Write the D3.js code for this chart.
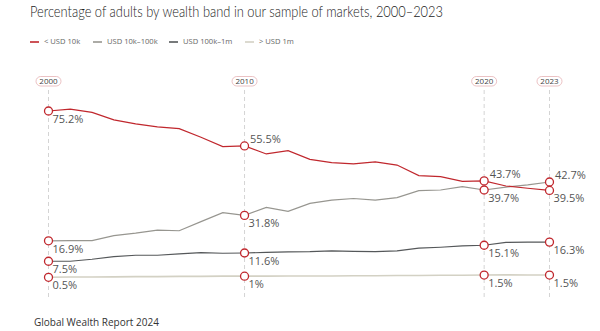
<!DOCTYPE html>
<html>
<head>
<meta charset="utf-8">
<script src="https://cdn.jsdelivr.net/npm/d3@7"></script>
<style>
  body { margin: 0; background: #fff; }
  svg { font-family: "Open Sans", "DejaVu Sans", sans-serif; }
</style>
</head>
<body>
<div id="container"></div>
<script>
/* CONSTANTS AND GLOBALS */
const width = 600,
  height = 331;

/* DATA */
// one entry per period on the x axis (24 periods)
const periods = ["2000","2001","2002","2003","2004","2005","2006","2007","2008","2010",
  "2011","2012","2013","2014","2015","2016","2017","2018","2019","2020",
  "2020b","2021","2022","2023"];

const seriesNames = ["< USD 10k", "USD 10k\u2013100k", "USD 100k\u20131m", "> USD 1m"];
const seriesColors = ["#c0272d", "#979690", "#55585a", "#d3d1c4"];

const under10k = [75.2, 76.0, 74.6, 71.2, 69.4, 68.1, 67.3, 63.4, 59.2, 59.5,
  55.9, 57.4, 53.5, 52.0, 51.4, 52.3, 50.9, 46.2, 45.7, 43.6, 43.8, 41.5, 40.5, 39.5];
const usd10k100k = [16.9, 17.0, 17.0, 19.2, 20.3, 21.7, 21.4, 25.5, 29.5, 28.3,
  31.9, 30.1, 33.7, 35.2, 35.9, 35.2, 36.3, 39.4, 39.7, 41.2, 39.7, 41.0, 42.0, 43.3];
const usd100k1m = [7.7, 7.7, 8.6, 9.8, 10.4, 10.4, 11.0, 11.6, 11.3, 11.4,
  11.7, 11.9, 12.0, 12.4, 12.1, 12.0, 12.4, 13.6, 14.0, 14.6, 14.9, 16.2, 16.3, 16.3];
const over1m = [0.5, 0.6, 0.6, 0.7, 0.8, 0.8, 0.9, 0.9, 1.0, 1.0,
  1.0, 1.1, 1.1, 1.1, 1.2, 1.2, 1.3, 1.3, 1.4, 1.4, 1.5, 1.6, 1.5, 1.5];

// highlighted periods (index into periods) and their header labels
const markIndex = [0, 9, 20, 23];
const markLabels = ["2000", "2010", "2020", "2023"];

// printed value labels per series at the highlighted periods
const markText = [
  ["75.2%", "55.5%", "43.7%", "39.5%"],
  ["16.9%", "31.8%", "39.7%", "42.7%"],
  ["7.5%", "11.6%", "15.1%", "16.3%"],
  ["0.5%", "1%", "1.5%", "1.5%"]
];
// label above the marker (true) or below it (false)
const markAbove = [
  [false, true, true, false],
  [false, false, false, true],
  [false, false, false, false],
  [false, false, false, false]
];

const allSeries = [under10k, usd10k100k, usd100k1m, over1m];

/* SCALES */
const xScale = d3.scalePoint()
  .domain(d3.range(periods.length))
  .range([48.5, 549.5]);

const yScale = d3.scaleLinear()
  .domain([0, 80])
  .range([278.4, 100.3]);

/* SVG */
const svg = d3.select("#container")
  .append("svg")
  .attr("width", width)
  .attr("height", height);

// title
svg.append("text")
  .attr("x", 30)
  .attr("y", 17)
  .attr("fill", "#222")
  .attr("font-family", "Lato, 'Open Sans', sans-serif")
  .attr("font-size", 14.6)
  .attr("font-weight", 300)
  .attr("textLength", 413)
  .attr("lengthAdjust", "spacingAndGlyphs")
  .text("Percentage of adults by wealth band in our sample of markets, 2000\u20132023");

// legend
const legendX = [30, 93, 169, 245];
const legend = svg.selectAll(".legend")
  .data(seriesNames)
  .join("g")
  .attr("class", "legend")
  .attr("transform", (d, i) => `translate(${legendX[i]},41)`);

legend.append("line")
  .attr("x1", 0).attr("x2", 9)
  .attr("y1", 1).attr("y2", 1)
  .attr("stroke", (d, i) => seriesColors[i])
  .attr("stroke-width", 1.6);

legend.append("text")
  .attr("x", 14)
  .attr("y", 3)
  .attr("font-size", 7.6)
  .attr("fill", "#666")
  .text(d => d);

// dashed guide lines + year pills
const guides = svg.selectAll(".guide")
  .data(markIndex)
  .join("g")
  .attr("class", "guide")
  .attr("transform", d => `translate(${xScale(d)},0)`);

guides.append("line")
  .attr("y1", 90).attr("y2", 300)
  .attr("stroke", "#d4d4d4")
  .attr("stroke-width", 1)
  .attr("stroke-dasharray", "4,3");

guides.append("rect")
  .attr("x", -12.5).attr("y", 76.5)
  .attr("width", 25).attr("height", 9.5)
  .attr("rx", 4.75)
  .attr("fill", "#fff")
  .attr("stroke", "#e6b3b5")
  .attr("stroke-width", 0.8);

guides.append("text")
  .attr("y", 84.3)
  .attr("text-anchor", "middle")
  .attr("font-size", 8)
  .attr("fill", "#444")
  .text((d, i) => markLabels[i]);

// LINE GENERATOR
const lineGen = d3.line()
  .x((d, i) => xScale(i))
  .y(d => yScale(d));

// draw lines, lightest first so red ends on top
const order = [3, 2, 1, 0];
svg.selectAll(".line")
  .data(order)
  .join("path")
  .attr("class", "line")
  .attr("fill", "none")
  .attr("stroke", s => seriesColors[s])
  .attr("stroke-width", s => s === 3 ? 1.6 : 1.2)
  .attr("d", s => lineGen(allSeries[s]));

// markers and value labels
order.forEach(s => {
  const pts = markIndex.map((idx, k) => ({
    x: xScale(idx),
    y: yScale(allSeries[s][idx]),
    text: markText[s][k],
    above: markAbove[s][k]
  }));

  svg.selectAll(".mark-" + s)
    .data(pts)
    .join("circle")
    .attr("class", "mark-" + s)
    .attr("cx", d => d.x)
    .attr("cy", d => d.y)
    .attr("r", 4)
    .attr("fill", "#fff")
    .attr("stroke", "#c0272d")
    .attr("stroke-width", 1.3);

  svg.selectAll(".lab-" + s)
    .data(pts)
    .join("text")
    .attr("class", "lab-" + s)
    .attr("x", d => d.x + (d.above ? 5.5 : 4))
    .attr("y", d => d.above ? d.y - 3 : d.y + 12)
    .attr("font-size", 11)
    .attr("fill", "#555")
    .text(d => d.text);
});

// footer
svg.append("text")
  .attr("x", 34)
  .attr("y", 326)
  .attr("font-size", 10)
  .attr("fill", "#333")
  .text("Global Wealth Report 2024");
</script>
</body>
</html>
